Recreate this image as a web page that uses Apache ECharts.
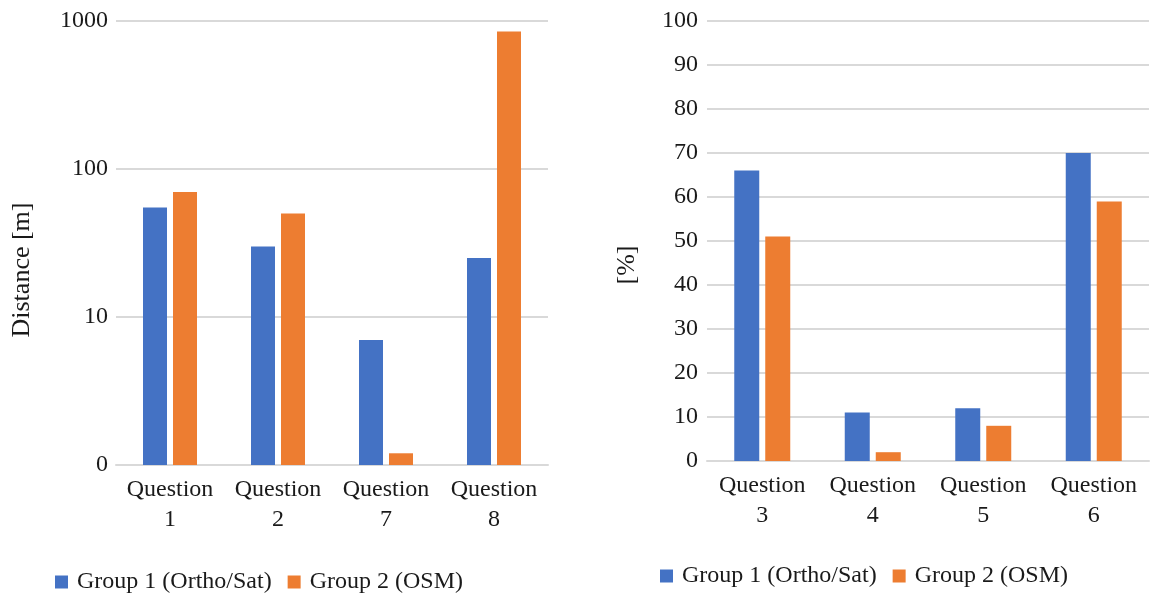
<!DOCTYPE html>
<html>
<head>
<meta charset="utf-8">
<script src="https://cdn.jsdelivr.net/npm/echarts@6/dist/echarts.min.js"></script>
<style>
html,body{margin:0;padding:0;background:#fff;}
#main{width:1159px;height:593px;}
</style>
</head>
<body>
<div id="main"></div>
<script>
// left chart (log scale)
var catsLeft = ['Question\n1', 'Question\n2', 'Question\n7', 'Question\n8'];
var group1Left = [55, 30, 7, 25];
var group2Left = [70, 50, 1.2, 850];
// right chart (percent)
var catsRight = ['Question\n3', 'Question\n4', 'Question\n5', 'Question\n6'];
var group1Right = [66, 11, 12, 70];
var group2Right = [51, 2, 8, 59];

var seriesNames = ['Group 1 (Ortho/Sat)', 'Group 2 (OSM)'];

var chart = echarts.init(document.getElementById('main'));
var font = 'Liberation Serif';
var txt = '#1a1a1a';
var gridLine = { lineStyle: { color: '#d9d9d9', width: 2 } };

var legendText = { fontFamily: font, fontSize: 24, color: txt, padding: [0, 0, 0, 4] };

var option = {
    animation: false,
    color: ['#4472C4', '#ED7D31'],
    textStyle: { fontFamily: font },
    grid: [
        { left: 116, right: 611, top: 21, bottom: 128 },
        { left: 707, right: 10, top: 21, bottom: 132 }
    ],
    legend: [
        {
            left: 50, top: 565,
            data: seriesNames,
            icon: 'rect', itemWidth: 13, itemHeight: 13, itemGap: 16,
            textStyle: legendText
        },
        {
            left: 655, top: 559,
            data: seriesNames,
            icon: 'rect', itemWidth: 13, itemHeight: 13, itemGap: 16,
            textStyle: legendText
        }
    ],
    xAxis: [
        {
            type: 'category', gridIndex: 0, data: catsLeft,
            axisTick: { show: false },
            axisLine: { lineStyle: { color: '#d9d9d9', width: 2 } },
            axisLabel: { interval: 0, fontFamily: font, fontSize: 24, color: txt, lineHeight: 30, margin: 10 }
        },
        {
            type: 'category', gridIndex: 1, data: catsRight,
            axisTick: { show: false },
            axisLine: { lineStyle: { color: '#d9d9d9', width: 2 } },
            axisLabel: { interval: 0, fontFamily: font, fontSize: 24, color: txt, lineHeight: 30, margin: 10 }
        }
    ],
    yAxis: [
        {
            type: 'log', gridIndex: 0, logBase: 10, min: 1, max: 1000,
            name: 'Distance [m]', nameLocation: 'middle', nameGap: 81,
            nameTextStyle: { fontFamily: font, fontSize: 26, color: txt, padding: [0, 54, 0, 0] },
            axisLine: { show: false }, axisTick: { show: false },
            splitLine: gridLine,
            axisLabel: {
                fontFamily: font, fontSize: 24, color: txt, margin: 8,
                formatter: function (v) { return v === 1 ? '0' : String(v); }
            }
        },
        {
            type: 'value', gridIndex: 1, min: 0, max: 100, interval: 10,
            name: '[%]', nameLocation: 'middle', nameGap: 67,
            nameTextStyle: { fontFamily: font, fontSize: 26, color: txt, padding: [0, 48, 0, 0] },
            axisLine: { show: false }, axisTick: { show: false },
            splitLine: gridLine,
            axisLabel: { fontFamily: font, fontSize: 24, color: txt, margin: 9 }
        }
    ],
    series: [
        { name: seriesNames[0], type: 'bar', xAxisIndex: 0, yAxisIndex: 0, data: group1Left, barWidth: 24, barGap: '25%' },
        { name: seriesNames[1], type: 'bar', xAxisIndex: 0, yAxisIndex: 0, data: group2Left, barWidth: 24, barGap: '25%' },
        { name: seriesNames[0], type: 'bar', xAxisIndex: 1, yAxisIndex: 1, data: group1Right, barWidth: 25, barGap: '24%' },
        { name: seriesNames[1], type: 'bar', xAxisIndex: 1, yAxisIndex: 1, data: group2Right, barWidth: 25, barGap: '24%' }
    ]
};

chart.setOption(option);
window.addEventListener('resize', function () { chart.resize(); });
</script>
</body>
</html>
